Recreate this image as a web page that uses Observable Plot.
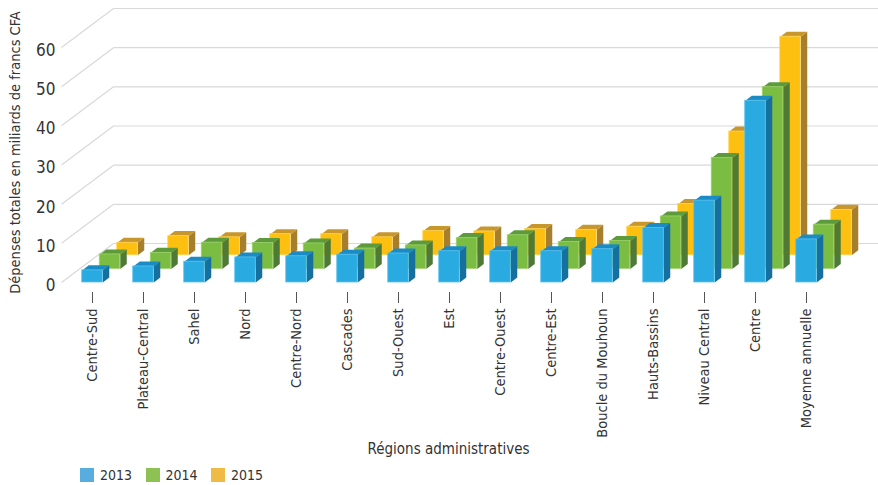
<!DOCTYPE html>
<html>
<head>
<meta charset="utf-8">
<script src="https://cdn.jsdelivr.net/npm/d3@7"></script>
<script src="https://cdn.jsdelivr.net/npm/@observablehq/plot@0.6"></script>
<style>
  html, body { margin: 0; padding: 0; background: #fff; }
  body { width: 878px; height: 485px; overflow: hidden; font-family: "Liberation Sans Narrow", "DejaVu Sans Condensed", "Roboto Condensed", sans-serif; font-stretch: condensed; color: #333; }
  #legend { display: flex; align-items: center; padding-left: 80px; padding-top: 6px; font-size: 14px; line-height: 14px; color: #333; }
  #legend .item { display: flex; align-items: center; width: 65.5px; }
  #legend .sw { width: 14px; height: 14px; margin-right: 6px; display: inline-block; }
</style>
</head>
<body>
<div id="chart"></div>
<div id="legend"></div>
<script>
// ---- data ----
const regions = ["Centre-Sud","Plateau-Central","Sahel","Nord","Centre-Nord","Cascades","Sud-Ouest","Est","Centre-Ouest","Centre-Est","Boucle du Mouhoun","Hauts-Bassins","Niveau Central","Centre","Moyenne annuelle"];
const years = ["2013","2014","2015"];
const v2013 = [3.1, 4.1, 5.3, 6.4, 6.7, 7.1, 7.4, 8.0, 8.0, 8.0, 8.5, 13.9, 20.9, 46.4, 11.0];
const v2014 = [3.7, 4.1, 6.7, 6.6, 6.5, 5.2, 6.0, 7.9, 8.6, 6.9, 7.1, 13.4, 28.3, 46.4, 11.3];
const v2015 = [3.2, 4.9, 4.6, 5.4, 5.4, 4.6, 6.2, 6.1, 6.7, 6.5, 7.3, 13.1, 31.6, 55.8, 11.6];
const yTicks = [0, 10, 20, 30, 40, 50, 60];
const yTitle = "Dépenses totales en miliards de francs CFA";
const xTitle = "Régions administratives";

// ---- styles ----
const faceColors = {
  "2013": {front: "#29abe2", top: "#1b8bc5", side: "#15709f", edge: "#5cc3ee", legend: "#58addf"},
  "2014": {front: "#7bbd42", top: "#5d9a3b", side: "#4e7a35", edge: "#9fd36f", legend: "#8dc153"},
  "2015": {front: "#fdc010", top: "#c7962c", side: "#a67e2c", edge: "#ffd45a", legend: "#f0bb45"}
};
const series = [v2013, v2014, v2015];

// ---- geometry (pixel constants -> data units) ----
const XS = 51;            // px per category
const YS = 235 / 60;      // px per unit value
const X0 = 92, Y0 = 282;
const W = 20.5 / XS;       // bar front width
const TX = 6.5 / XS, TY = 5 / YS;   // bar thickness (side/top)
const DSX = 17.5 / XS, DSY = 13.6 / YS; // offset per depth row
const WALLX = 52 / XS, WALLY = 39 / YS; // back wall offset
const ux = px => (px - X0) / XS;

const fronts = [], tops = [], sides = [];
series.forEach((vals, s) => {
  const yr = years[s];
  vals.forEach((v, i) => {
    const x1 = i - W / 2 + s * DSX, x2 = i + W / 2 + s * DSX;
    const y1 = s * DSY, y2 = v + s * DSY;
    const id = yr + "-" + i;
    fronts.push({year: yr, x1, x2, y1, y2});
    [[x1, y2], [x2, y2], [x2 + TX, y2 + TY], [x1 + TX, y2 + TY]].forEach(([x, y]) => tops.push({id, year: yr, x, y}));
    [[x2, y1], [x2, y2], [x2 + TX, y2 + TY], [x2 + TX, y1 + TY]].forEach(([x, y]) => sides.push({id, year: yr, x, y}));
  });
});

const diag = yTicks.map(v => ({x1: ux(61), y1: v, x2: ux(61) + WALLX, y2: v + WALLY}));
const back = yTicks.map(v => ({x1: ux(61) + WALLX, x2: ux(878), y: v + WALLY}));

const marks = [
  Plot.link(diag, {x1: "x1", y1: "y1", x2: "x2", y2: "y2", stroke: "#d9d9d9", strokeWidth: 1.2}),
  Plot.link(back, {x1: "x1", x2: "x2", y1: "y", y2: "y", stroke: "#d9d9d9", strokeWidth: 1.2})
];
for (let s = 2; s >= 0; s--) {
  const yr = years[s], c = faceColors[yr];
  marks.push(
    Plot.line(sides.filter(d => d.year === yr), {x: "x", y: "y", z: "id", fill: c.side, stroke: "none", curve: "linear-closed"}),
    Plot.line(tops.filter(d => d.year === yr), {x: "x", y: "y", z: "id", fill: c.top, stroke: "none", curve: "linear-closed"}),
    Plot.rect(fronts.filter(d => d.year === yr), {x1: "x1", x2: "x2", y1: "y1", y2: "y2", fill: c.front, stroke: c.edge, strokeWidth: 0.8})
  );
}
marks.push(
  Plot.axisY(yTicks, {anchor: "left", tickSize: 0, tickPadding: 3, fontSize: 17, dy: 3, label: null}),
  Plot.axisX(d3.range(regions.length), {tickFormat: i => regions[i], tickRotate: -90, tickSize: 11, tickPadding: 5, fontSize: 14.5, stroke: "#555", label: null}),
  Plot.text([yTitle], {frameAnchor: "left", textAnchor: "middle", lineAnchor: "middle", rotate: -90, dx: -43, dy: 6, fontSize: 14.5, fill: "#333"}),
  Plot.text([xTitle], {frameAnchor: "bottom", textAnchor: "middle", lineAnchor: "middle", dx: -20, dy: 157, fontSize: 15, fill: "#333"})
);

const chart = Plot.plot({
  width: 878,
  height: 462,
  marginLeft: 58,
  marginRight: 0,
  marginTop: 0,
  marginBottom: 170,
  style: {fontFamily: '"Liberation Sans Narrow", "DejaVu Sans Condensed", sans-serif', color: "#333", background: "#fff", overflow: "visible"},
  x: {type: "linear", domain: [0, 14], range: [X0, X0 + 14 * XS]},
  y: {type: "linear", domain: [0, 60], range: [Y0, Y0 - 60 * YS]},
  marks
});
document.getElementById("chart").appendChild(chart);

const legend = document.getElementById("legend");
years.forEach(yr => {
  const item = document.createElement("span");
  item.className = "item";
  const sw = document.createElement("span");
  sw.className = "sw";
  sw.style.background = faceColors[yr].legend;
  item.appendChild(sw);
  item.appendChild(document.createTextNode(yr));
  legend.appendChild(item);
});
</script>
</body>
</html>
